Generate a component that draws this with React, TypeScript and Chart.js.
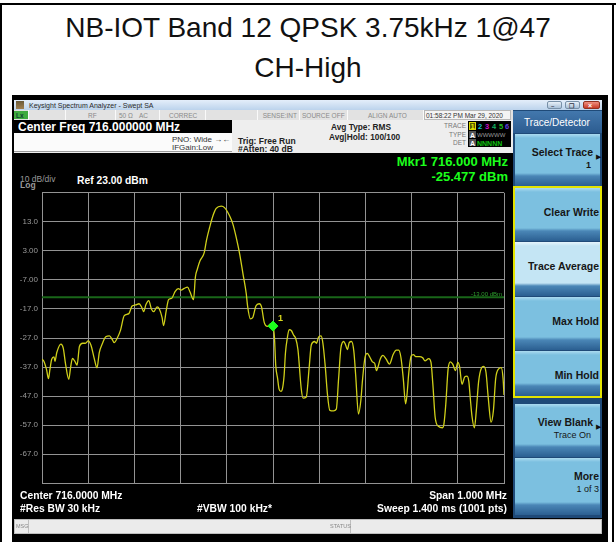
import React, { useEffect, useRef } from 'react';
import { Chart, registerables } from 'chart.js';

Chart.register(...registerables);

// ---- data ----
const traceOffsetKHz = [
  -500, -496, -490, -486, -483, -479, -474, -472, -468, -459,
  -454, -449, -442, -438, -434, -429, -424, -419, -412, -406,
  -400, -394, -387, -381, -376, -369, -362, -354, -348, -344,
  -337, -330, -322, -312, -305, -297, -290, -284, -280, -275,
  -269, -263, -258, -251, -246, -240, -237, -231, -226, -219,
  -212, -205, -199, -192, -185, -180, -172, -168, -164, -158,
  -149, -144, -137, -130, -123, -112, -105, -94, -87, -80,
  -72, -65, -58, -55, -49, -44, -37, -30, -25, -19,
  -12, -5, 0, 3, 6, 10, 13, 17, 20, 24,
  27, 31, 35, 40, 45, 49, 54, 61, 65, 72,
  78, 83, 90, 94, 99, 104, 108, 113, 118, 123,
  131, 137, 142, 147, 153, 157, 161, 165, 170, 175,
  179, 185, 190, 194, 199, 204, 209, 215, 220, 224,
  227, 232, 238, 245, 252, 260, 267, 272, 277, 282,
  287, 290, 294, 299, 304, 309, 317, 324, 329, 337,
  342, 346, 351, 358, 367, 370, 374, 379, 384, 389,
  395, 400, 404, 409, 415, 420, 424, 427, 431, 436,
  440, 445, 451, 456, 461, 466, 472, 477, 482, 488,
  494, 498, 500,
];
const traceDbm = [
  -34.3, -35, -38, -41, -38, -34.3, -33.5, -35, -32, -29.1,
  -30.5, -36, -41.2, -37, -34, -35, -36.3, -29.9, -28.8, -28.8,
  -28, -29.5, -34, -37.3, -32, -28.8, -26.6, -26.3, -27.5, -28.6,
  -27, -24.3, -19.3, -18.6, -16, -15.6, -15.2, -16.5, -17.9, -15.5,
  -14.1, -17.1, -17.9, -16.3, -17, -20, -22.7, -17.5, -13.8, -13.3,
  -11, -10, -10.5, -9.9, -9.5, -11, -13.8, -6, -3.4, -0.4,
  2.3, 6.6, 11.2, 15.1, 17.6, 18.4, 17.9, 15.1, 12.3, 7.9,
  1.8, -4.9, -11.6, -16, -20.4, -20, -16, -15.2, -16.2, -21.6,
  -23, -22.1, -22.9, -26.5, -36.6, -41, -44.5, -45.4, -44.8, -40,
  -32.1, -27, -24.1, -24.5, -26.1, -27.1, -31, -44.3, -47.7, -47.3,
  -37.7, -29.3, -28.2, -28.8, -26.6, -26.3, -28.8, -36.6, -46.6, -51.9,
  -52.1, -51.5, -41, -30.4, -28.2, -29.3, -31, -28.6, -28.2, -31.6,
  -39.9, -53.2, -48.7, -41, -33.8, -32.3, -33.4, -35.2, -35.7, -38.2,
  -37.1, -34.3, -33, -34.3, -36, -32.7, -31.2, -31.2, -33.8, -41,
  -49.7, -46.6, -38.8, -33.2, -32.7, -33.4, -33.4, -33.8, -34.9, -34.1,
  -35.4, -42.9, -54.3, -57.4, -57.9, -56.6, -49.8, -37.7, -35.2, -36,
  -38.2, -35.4, -37, -42.9, -40.4, -40.1, -42.1, -47.7, -54.3, -57.9,
  -52.1, -42.1, -37.4, -36.8, -38.8, -47.7, -56, -52.1, -41, -37.7,
  -37.2, -41, -46.6,
];
const markerOffsetKHz = [0];
const markerDbm = [-22.9];
const limitDbm = -13;
const limitLabel = '-13.00 dBm';
const refLevelDbm = 23;
const bottomLevelDbm = -77;
const dbPerDiv = 10;
const halfSpanKHz = 500;
const kHzPerDiv = 100;
const yTickValues = [13, 3, -7, -17, -27, -37, -47, -57, -67];
const yTickLabels = ['13.0', '3.00', '-7.00', '-17.0', '-27.0', '-37.0', '-47.0', '-57.0', '-67.0'];

const softkeyLabels = [
  ['Select Trace', '1'],
  ['Clear Write', ''],
  ['Trace Average', ''],
  ['Max Hold', ''],
  ['Min Hold', ''],
  ['View Blank', 'Trace On'],
  ['More', '1 of 3'],
];

const FF = '"Liberation Sans", Arial, Helvetica, sans-serif';
const GRID = '#939393';

type TP = {
  x: number; b: number; s: number; c?: string; w?: number;
  a?: 'left' | 'right' | 'center'; children: React.ReactNode; ff?: string;
};
function T({ x, b, s, c = '#000', w = 400, a = 'left', children, ff }: TP) {
  const st: React.CSSProperties = {
    position: 'absolute', top: b - 0.846 * s, fontSize: s, lineHeight: `${s}px`,
    fontFamily: ff || FF, fontWeight: w, color: c, whiteSpace: 'nowrap',
  };
  if (a === 'left') st.left = x;
  else if (a === 'right') st.right = 616 - x;
  else { st.left = x - 300; st.width = 600; st.textAlign = 'center'; }
  return <div style={st}>{children}</div>;
}

function Box({ l, t, w, h, bg, style }: { l: number; t: number; w: number; h: number; bg: string; style?: React.CSSProperties }) {
  return <div style={{ position: 'absolute', left: l, top: t, width: w, height: h, background: bg, boxSizing: 'border-box', ...style }} />;
}

function Spectrum() {
  const ref = useRef<HTMLCanvasElement | null>(null);
  useEffect(() => {
    const canvas = ref.current;
    if (!canvas) return;
    const labelPlugin = {
      id: 'saLabels',
      afterDatasetsDraw(chart: any) {
        const { ctx, scales } = chart;
        const xs = scales.x; const ys = scales.y;
        ctx.save();
        ctx.font = `6px ${FF}`;
        ctx.fillStyle = '#2e9e2e';
        ctx.textAlign = 'right';
        ctx.textBaseline = 'alphabetic';
        ctx.fillText(limitLabel, xs.right - 2, ys.getPixelForValue(limitDbm) - 1);
        ctx.font = `bold 9px ${FF}`;
        ctx.fillStyle = '#d6d61e';
        ctx.textAlign = 'left';
        ctx.fillText('1', xs.getPixelForValue(markerOffsetKHz[0]) + 5, ys.getPixelForValue(markerDbm[0]) - 5);
        ctx.restore();
      },
    };
    const chart = new Chart(canvas, {
      type: 'line',
      data: {
        datasets: [
          {
            label: 'Mkr1',
            data: markerOffsetKHz.map((x, i) => ({ x, y: markerDbm[i] })),
            showLine: false,
            pointStyle: 'rectRot',
            pointRadius: 5,
            pointBackgroundColor: '#1cff1c',
            pointBorderColor: '#1cff1c',
            order: 0,
          } as any,
          {
            label: 'Trace 1',
            data: traceOffsetKHz.map((x, i) => ({ x, y: traceDbm[i] })),
            borderColor: '#d0d01a',
            borderWidth: 1.3,
            pointRadius: 0,
            cubicInterpolationMode: 'monotone',
            order: 1,
          } as any,
          {
            label: 'Limit',
            data: [{ x: -halfSpanKHz, y: limitDbm }, { x: halfSpanKHz, y: limitDbm }],
            borderColor: '#196619',
            borderWidth: 2,
            pointRadius: 0,
            order: 2,
          } as any,
        ],
      },
      options: {
        animation: false,
        responsive: false,
        devicePixelRatio: 1,
        layout: { padding: { top: 4, bottom: 4, left: 0, right: 1 } },
        plugins: { legend: { display: false }, tooltip: { enabled: false } },
        scales: {
          x: {
            type: 'linear',
            min: -halfSpanKHz,
            max: halfSpanKHz,
            ticks: { stepSize: kHzPerDiv, display: false },
            grid: { color: GRID, drawTicks: false, lineWidth: 1 },
            border: { color: GRID },
            afterFit: (s: any) => { s.height = 0; },
          },
          y: {
            type: 'linear',
            min: bottomLevelDbm,
            max: refLevelDbm,
            ticks: {
              stepSize: dbPerDiv,
              color: '#9a9a9a',
              font: { size: 8, family: FF },
              padding: 4,
              autoSkip: false,
              callback: (v: any) => {
                const i = yTickValues.findIndex((t) => Math.abs(t - Number(v)) < 0.01);
                return i >= 0 ? yTickLabels[i] : '';
              },
            },
            grid: { color: GRID, drawTicks: false, lineWidth: 1 },
            border: { color: GRID },
            afterFit: (s: any) => { s.width = 28; },
          },
        },
      } as any,
      plugins: [labelPlugin],
    });
    return () => chart.destroy();
  }, []);
  return (
    <canvas ref={ref} width={496} height={308}
      style={{ position: 'absolute', left: 14, top: 184, width: 496, height: 308 }} />
  );
}

function Softkey({ top, h, l1, l2, arrow, sel }: { top: number; h: number; l1: string; l2: string; arrow?: boolean; sel?: boolean }) {
  const main = sel ? '#c4e5f4' : '#7cc0e0';
  const hi = sel ? '#e6f5fc' : '#acdbf0';
  const bg = `linear-gradient(to bottom, ${hi} 0px, ${main} 4px, ${main} ${h - 13}px, #4a86b6 ${h - 10}px, #2b5f91 ${h}px)`;
  const two = l2 !== '';
  const rx = arrow ? 593 : 599;
  return (
    <>
      <Box l={515} t={top} w={85} h={h} bg={bg} />
      <T x={rx} b={top + (two ? 22 : 28)} s={10.5} w={700} a="right" c="#161616">{l1}</T>
      {two && <T x={arrow ? 591 : 599} b={top + 35} s={9} w={l1 === 'Select Trace' ? 700 : 400} a="right" c="#161616">{l2}</T>}
      {arrow && <T x={596} b={top + 25} s={7} c="#111">▶</T>}
    </>
  );
}

export default function App() {
  useEffect(() => {
    document.body.style.margin = '0';
  }, []);
  const keyGeom = [
    { top: 134, h: 52 },
    { top: 188, h: 53 },
    { top: 242, h: 54, sel: true },
    { top: 297, h: 53 },
    { top: 351, h: 45 },
    { top: 404, h: 53, arrow: true },
    { top: 458, h: 57 },
  ];
  return (
    <div style={{ position: 'fixed', left: 0, top: 0, width: 616, height: 542, background: '#fff', overflow: 'hidden', fontFamily: FF }}>
      {/* table borders */}
      <Box l={0} t={3} w={616} h={2} bg="#000" />
      <Box l={0} t={3} w={2} h={539} bg="#000" />
      <Box l={612} t={3} w={2} h={539} bg="#000" />
      {/* caption */}
      <T x={308} b={38} s={28} a="center" c="#111">NB-IOT Band 12 QPSK 3.75kHz 1@47</T>
      <T x={308} b={78} s={28} a="center" c="#111">CH-High</T>

      {/* screenshot frame */}
      <Box l={12} t={95} w={596} h={447} bg="#000" />
      {/* window title bar */}
      <Box l={14} t={100} w={588} h={10} bg="linear-gradient(to bottom, #e4eefa, #bcd3ec)" />
      <Box l={16} t={101} w={8} h={8} bg="linear-gradient(#6a5a3a, #a08050)" />
      <T x={29} b={108} s={7} c="#2a2a2a">Keysight Spectrum Analyzer - Swept SA</T>
      <Box l={547} t={101} w={15} h={8} bg="linear-gradient(#e8f0f8, #a8c0d8)" style={{ border: '1px solid #7890a8', borderRadius: 2 }} />
      <Box l={565} t={101} w={15} h={8} bg="linear-gradient(#e8f0f8, #a8c0d8)" style={{ border: '1px solid #7890a8', borderRadius: 2 }} />
      <Box l={583} t={101} w={17} h={8} bg="linear-gradient(#f09080, #c83a28)" style={{ border: '1px solid #903020', borderRadius: 2 }} />
      <T x={551} b={108} s={6} c="#334" w={700}>–</T>
      <T x={569} b={108} s={6} c="#334" w={700}>❐</T>
      <T x={588} b={108} s={7} c="#fff" w={700}>×</T>

      {/* status row */}
      <Box l={14} t={110} w={499} h={10} bg="#e2e2e2" />
      <Box l={14} t={111} w={14} h={8} bg="#3faa3f" />
      <T x={16} b={118} s={6.5} c="#143" w={700}>Lx</T>
      {[28, 65, 115, 159, 205, 257, 299, 347, 423].map((x) => (
        <Box key={x} l={x} t={110} w={1} h={10} bg="#fafafa" />
      ))}
      <T x={88} b={118} s={6.5} c="#8a8a8a">RF</T>
      <T x={119} b={118} s={6.5} c="#8a8a8a">50 Ω</T>
      <T x={139} b={118} s={6.5} c="#8a8a8a">AC</T>
      <T x={169} b={118} s={6.5} c="#8a8a8a">CORREC</T>
      <T x={297} b={118} s={6.5} c="#8a8a8a" a="right">SENSE:INT</T>
      <T x={302} b={118} s={6.5} c="#8a8a8a">SOURCE OFF</T>
      <T x={368} b={118} s={6.5} c="#8a8a8a">ALIGN AUTO</T>
      <Box l={424} t={110} w={87} h={10} bg="#f4f4f4" style={{ border: '1px solid #b8b8b8' }} />
      <T x={426} b={118} s={6.5} c="#333">01:58:22 PM Mar 29, 2020</T>

      {/* settings row */}
      <Box l={14} t={120} w={499} h={33} bg="#eeeeee" />
      <Box l={14} t={120} w={218} h={13} bg="#000" />
      <T x={18} b={131} s={12} w={700} c="#fff">Center Freq 716.000000 MHz</T>
      <Box l={14} t={133} w={218} h={19} bg="#fbfbfb" style={{ borderBottom: '1px solid #9a9a9a' }} />
      <T x={172} b={143} s={8} c="#333">PNO: Wide →←</T>
      <T x={172} b={151} s={8} c="#333">IFGain:Low</T>
      <T x={238} b={144} s={8.5} w={700} c="#222">Trig: Free Run</T>
      <T x={238} b={152} s={8.5} w={700} c="#222">#Atten: 40 dB</T>
      <T x={361} b={130} s={8.3} w={700} c="#222" a="center">Avg Type: RMS</T>
      <T x={329} b={140} s={8.3} w={700} c="#222">Avg|Hold: 100/100</T>
      <T x={466} b={128} s={6.5} c="#777" a="right">TRACE</T>
      <T x={466} b={137} s={6.5} c="#777" a="right">TYPE</T>
      <T x={466} b={145} s={6.5} c="#777" a="right">DET</T>
      <Box l={468} t={121} w={43} h={26} bg="#000" />
      <Box l={469} t={122} w={7} h={8} bg="#5a5a00" style={{ border: '1px solid #d8d800' }} />
      <T x={470.5} b={129} s={7.5} w={700} c="#e8e800">1</T>
      <T x={478} b={129} s={7.5} w={700} c="#10c8c8">2</T>
      <T x={485} b={129} s={7.5} w={700} c="#c810c8">3</T>
      <T x={492} b={129} s={7.5} w={700} c="#10b060">4</T>
      <T x={499} b={129} s={7.5} w={700} c="#20c020">5</T>
      <T x={505} b={129} s={7.5} w={700} c="#6040e0">6</T>
      <Box l={469} t={131} w={7} h={7} bg="#555" />
      <T x={470} b={137.5} s={7} w={700} c="#fff">A</T>
      <T x={477} b={137.5} s={6} c="#9a9a9a">WWWWW</T>
      <Box l={469} t={139} w={7} h={7} bg="#555" />
      <T x={470} b={145.5} s={7} w={700} c="#fff">A</T>
      <T x={477} b={145.5} s={7} w={700} c="#10c010">NNNNN</T>

      {/* display texts */}
      <T x={20} b={182} s={8.5} c="#9a9a9a">10 dB/div</T>
      <T x={20} b={188} s={8.5} c="#9a9a9a" w={700}>Log</T>
      <T x={77} b={185} s={10.3} c="#fff" w={700}>Ref 23.00 dBm</T>
      <T x={508} b={166} s={13} c="#1cff1c" w={700} a="right">Mkr1 716.000 MHz</T>
      <T x={508} b={181} s={13} c="#1cff1c" w={700} a="right">-25.477 dBm</T>

      <Spectrum />

      <T x={20} b={500} s={10.3} c="#fff" w={700}>Center 716.0000 MHz</T>
      <T x={20} b={513} s={10.3} c="#fff" w={700}>#Res BW 30 kHz</T>
      <T x={197} b={513} s={10.3} c="#fff" w={700}>#VBW 100 kHz*</T>
      <T x={507} b={500} s={10.3} c="#fff" w={700} a="right">Span 1.000 MHz</T>
      <T x={507} b={513} s={10.3} c="#fff" w={700} a="right">Sweep  1.400 ms (1001 pts)</T>

      {/* message bar */}
      <Box l={14} t={519} w={588} h={15} bg="#ebebeb" style={{ border: '1px solid #bdbdbd' }} />
      <Box l={28} t={520} w={1} h={13} bg="#bdbdbd" />
      <Box l={350} t={520} w={1} h={13} bg="#bdbdbd" />
      <T x={16} b={529} s={5.5} c="#888">MSG</T>
      <T x={330} b={529} s={5.5} c="#888">STATUS</T>

      {/* softkey panel */}
      <Box l={513} t={110} w={89} h={408} bg="#1f4a78" />
      <Box l={513} t={111} w={89} h={22} bg="linear-gradient(to bottom, #4378ad, #2c5c90)" />
      <T x={557} b={126} s={10} c="#fff" a="center">Trace/Detector</T>
      {keyGeom.map((g, i) => (
        <Softkey key={i} top={g.top} h={g.h} l1={softkeyLabels[i][0]} l2={softkeyLabels[i][1]}
          arrow={i === 0 || g.arrow} sel={g.sel} />
      ))}
      <Box l={513} t={186} w={89} h={212} bg="transparent" style={{ border: '2px solid #e4e400' }} />
    </div>
  );
}
